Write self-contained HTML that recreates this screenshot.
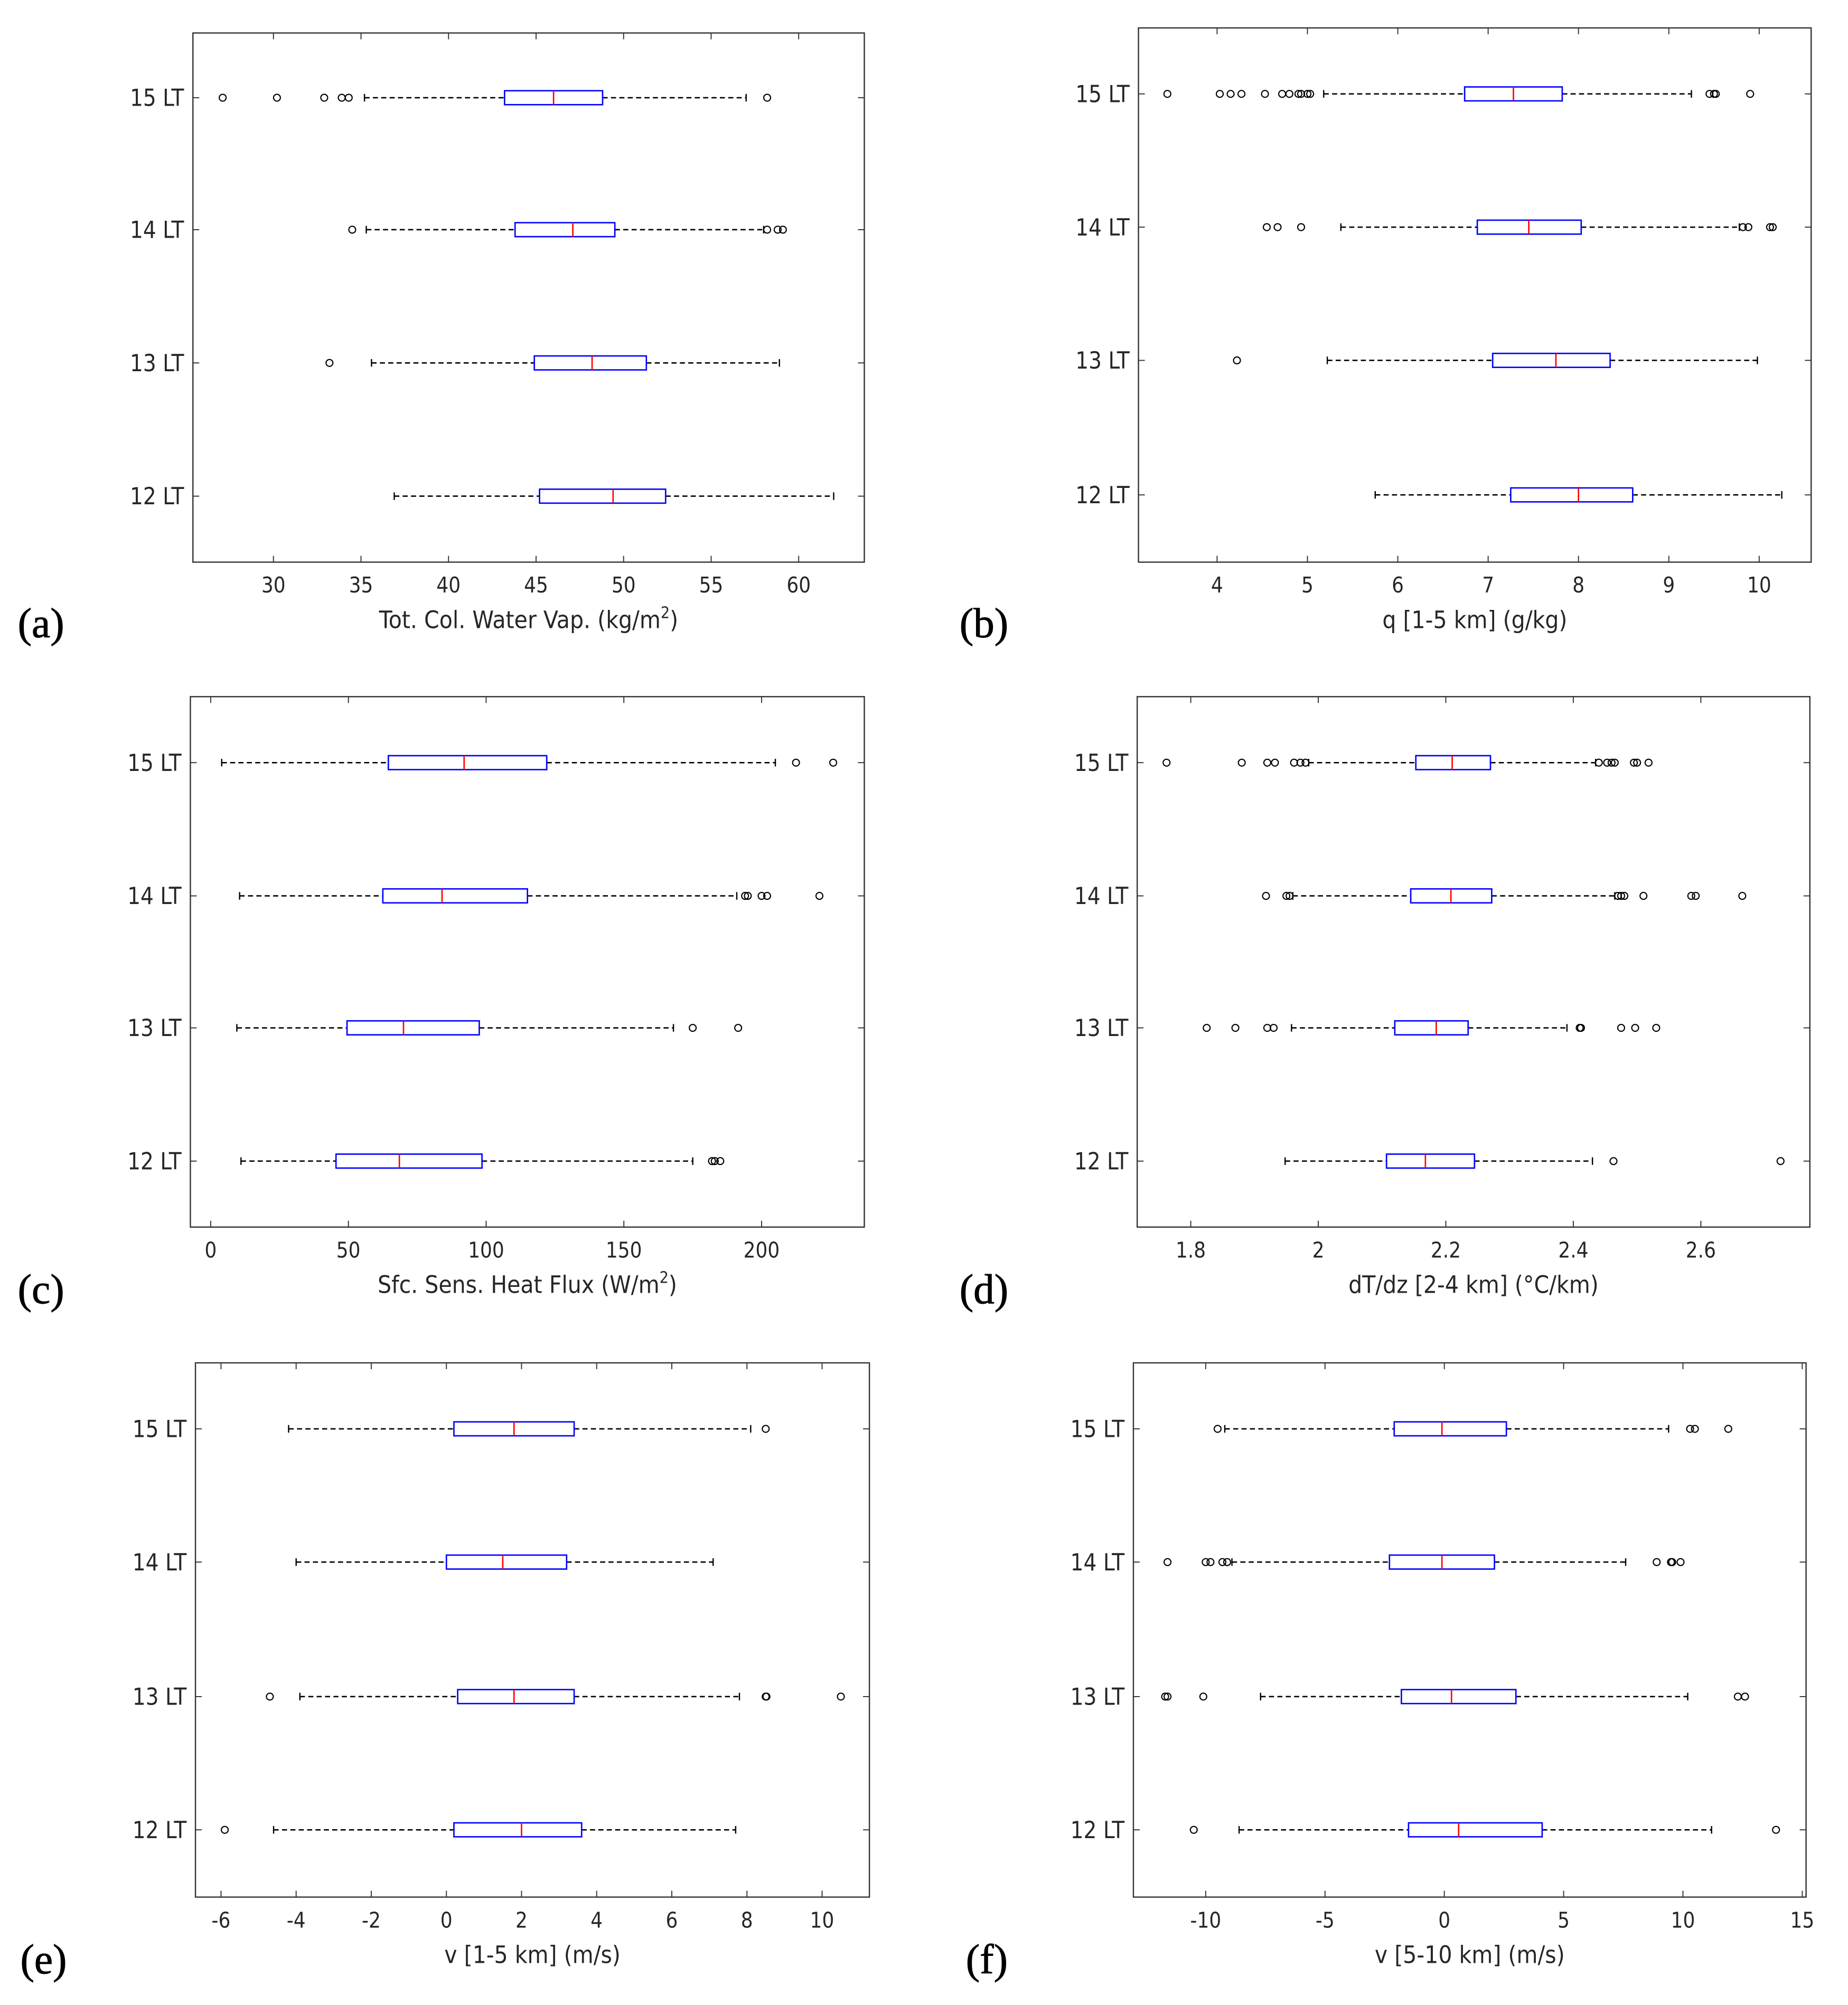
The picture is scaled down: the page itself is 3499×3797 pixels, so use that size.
<!DOCTYPE html>
<html><head><meta charset="utf-8"><style>
html,body{margin:0;padding:0;background:#fff;}
svg{display:block;}
</style></head><body>
<svg id="fig" width="3499" height="3797" viewBox="0 0 3499 3797" xmlns="http://www.w3.org/2000/svg">
<rect width="3499" height="3797" fill="#fff"/>
<g id="root" transform="scale(2.4031)"></g>
</svg>
<script>
const cats = ["12 LT","13 LT","14 LT","15 LT"];
// each stat: [lowWhisker, q1, median, q3, highWhisker]
const statsA = [[36.9,45.2,49.4,52.4,62.0],[35.6,44.9,48.2,51.3,58.9],[35.3,43.8,47.1,49.5,58.0],[35.2,43.2,46.0,48.8,57.0]];
const outA = [[],[33.2],[34.5,58.2,58.8,59.1],[27.1,30.2,32.9,33.9,34.3,58.2]];
const statsB = [[5.75,7.25,8.0,8.6,10.25],[5.22,7.05,7.75,8.35,9.98],[5.37,6.88,7.45,8.03,9.78],[5.18,6.74,7.28,7.82,9.25]];
const outB = [[],[4.22],[4.55,4.67,4.93,9.82,9.88,10.12,10.15],[3.45,4.03,4.15,4.27,4.53,4.72,4.8,4.9,4.93,5.0,5.03,9.45,9.5,9.52,9.9]];
const statsC = [[11,45.5,68.5,98.5,175],[9.5,49.5,70,97.5,168],[10.5,62.5,84,115,191],[4,64.5,92,122,205]];
const outC = [[182,183,185],[175,191.5],[194,195,200,202,221],[212.5,226]];
const statsD = [[1.948,2.107,2.168,2.245,2.43],[1.958,2.12,2.185,2.235,2.39],[1.96,2.145,2.208,2.272,2.465],[1.985,2.153,2.21,2.27,2.435]];
const outD = [[2.463,2.725],[1.825,1.87,1.92,1.93,2.41,2.412,2.475,2.497,2.53],[1.918,1.95,1.955,2.47,2.475,2.48,2.51,2.585,2.592,2.665],[1.762,1.88,1.92,1.932,1.962,1.972,1.98,2.44,2.453,2.46,2.465,2.495,2.5,2.518]];
const statsE = [[-4.6,0.2,2.0,3.6,7.7],[-3.9,0.3,1.8,3.4,7.8],[-4.0,0.0,1.5,3.2,7.1],[-4.2,0.2,1.8,3.4,8.1]];
const outE = [[-5.9],[-4.7,8.5,8.52,10.5],[],[8.5]];
const statsF = [[-8.6,-1.5,0.6,4.1,11.2],[-7.7,-1.8,0.3,3.0,10.2],[-8.9,-2.3,-0.1,2.1,7.6],[-9.2,-2.1,-0.1,2.6,9.4]];
const outF = [[-10.5,13.9],[-11.7,-11.6,-10.1,12.3,12.6],[-11.6,-10.0,-9.8,-9.3,-9.1,8.9,9.5,9.55,9.9],[-9.5,10.3,10.5,11.9]];
const ticksA = [30,35,40,45,50,55,60];
const ticksB = [4,5,6,7,8,9,10];
const ticksC = [0,50,100,150,200];
const ticksD = [1.8,2,2.2,2.4,2.6];
const ticksE = [-6,-4,-2,0,2,4,6,8,10];
const ticksF = [-10,-5,0,5,10,15];

const NS="http://www.w3.org/2000/svg";
const root=document.getElementById('root');
function mk(tag,attrs,parent){const e=document.createElementNS(NS,tag);for(const k in attrs)e.setAttribute(k,attrs[k]);parent.appendChild(e);return e;}

const panels=[
 {id:'a',L:152,R:681,T:26,B:443,x0:25.4,x1:63.75,yt:[391,286,181,77],stats:statsA,outs:outA,ticks:ticksA,label:'Tot. Col. Water Vap. (kg/m',sup:'2',tail:')',lx:14,ly:502},
 {id:'b',L:897,R:1427,T:22,B:443,x0:3.13,x1:10.575,yt:[390,284,179,74],stats:statsB,outs:outB,ticks:ticksB,label:'q [1-5 km] (g/kg)',lx:756,ly:502},
 {id:'c',L:150,R:681,T:549,B:967,x0:-7.37,x1:237.3,yt:[915,810,706,601],stats:statsC,outs:outC,ticks:ticksC,label:'Sfc. Sens. Heat Flux (W/m',sup:'2',tail:')',lx:14,ly:1027},
 {id:'d',L:896,R:1426,T:549,B:967,x0:1.716,x1:2.771,yt:[915,810,706,601],stats:statsD,outs:outD,ticks:ticksD,label:'dT/dz [2-4 km] (°C/km)',lx:756,ly:1027},
 {id:'e',L:154,R:685,T:1074,B:1495,x0:-6.68,x1:11.26,yt:[1442,1337,1231,1126],stats:statsE,outs:outE,ticks:ticksE,label:'v [1-5 km] (m/s)',lx:16,ly:1555},
 {id:'f',L:893,R:1423,T:1074,B:1495,x0:-13.03,x1:15.16,yt:[1442,1337,1231,1126],stats:statsF,outs:outF,ticks:ticksF,label:'v [5-10 km] (m/s)',lx:761,ly:1555}
];
const FF='"DejaVu Sans", "Liberation Sans", sans-serif';
panels.forEach(p=>{
  const g=mk('g',{},root);
  
  
  const X=v=>p.L+(v-p.x0)/(p.x1-p.x0)*(p.R-p.L);
  const frame=mk('rect',{x:p.L,y:p.T,width:p.R-p.L,height:p.B-p.T,fill:'none',stroke:'#333','stroke-width':1.0},g);
  
  
  p.ticks.forEach(t=>{
    const x=X(t);
    mk('line',{x1:x,x2:x,y1:p.B,y2:p.B-5,stroke:'#333','stroke-width':0.8},g);
    mk('line',{x1:x,x2:x,y1:p.T,y2:p.T+5,stroke:'#333','stroke-width':0.8},g);
    const tl=mk('text',{x:x,y:p.B+24,'text-anchor':'middle','font-size':17,'font-family':FF,fill:'#262626','transform':`translate(${x},0) scale(0.88,1) translate(${-x},0)`},g);
    tl.textContent=String(t);
    
    
  });
  cats.forEach((c,i)=>{
    const y=p.yt[i];
    mk('line',{x1:p.L,x2:p.L+5,y1:y,y2:y,stroke:'#333','stroke-width':0.8},g);
    mk('line',{x1:p.R,x2:p.R-5,y1:y,y2:y,stroke:'#333','stroke-width':0.8},g);
    const xr=p.L-7;
    const yl=mk('text',{x:xr,y:y+6.5,'text-anchor':'end','font-size':18.5,'font-family':FF,fill:'#262626','transform':`translate(${xr},0) scale(0.88,1) translate(${-xr},0)`},g);
    yl.textContent=c;
    
    
    const s=p.stats[i];
    const wl=mk('line',{x1:X(s[0]),x2:X(s[1]),y1:y,y2:y,stroke:'#000','stroke-width':1.1,'stroke-dasharray':'4,2.6'},g);
    
    
    const wh=mk('line',{x1:X(s[3]),x2:X(s[4]),y1:y,y2:y,stroke:'#000','stroke-width':1.1,'stroke-dasharray':'4,2.6'},g);
    
    
    mk('line',{x1:X(s[0]),x2:X(s[0]),y1:y-3,y2:y+3,stroke:'#000','stroke-width':1.0},g);
    mk('line',{x1:X(s[4]),x2:X(s[4]),y1:y-3,y2:y+3,stroke:'#000','stroke-width':1.0},g);
    const bx=mk('rect',{x:X(s[1]),y:y-5.5,width:X(s[3])-X(s[1]),height:11,fill:'none',stroke:'#0000ff','stroke-width':1.1},g);
    
    
    const md=mk('line',{x1:X(s[2]),x2:X(s[2]),y1:y-5.5,y2:y+5.5,stroke:'#ff0000','stroke-width':1.1},g);
    
    
    p.outs[i].forEach(o=>{
      const ci=mk('circle',{cx:X(o),cy:y,r:2.7,fill:'none',stroke:'#000','stroke-width':0.9},g);
      
      
    });
  });
  const cx=(p.L+p.R)/2;
  const xl=mk('text',{x:cx,y:p.B+52,'text-anchor':'middle','font-size':19,'font-family':FF,fill:'#262626','transform':`translate(${cx},0) scale(0.9,1) translate(${-cx},0)`},g);
  
  
  xl.appendChild(document.createTextNode(p.label));
  if(p.sup){
    const sp=mk('tspan',{dy:-8,'font-size':12.5},xl);sp.textContent=p.sup;
    const tp=mk('tspan',{dy:8},xl);tp.textContent=p.tail;
  }
  const pl=mk('text',{x:p.lx,y:p.ly,'font-size':33,'font-family':'"Liberation Serif", serif',fill:'#000','stroke':'#000','stroke-width':0.4},g);
  pl.textContent='('+p.id+')';
  
  
});
</script>
</body></html>
